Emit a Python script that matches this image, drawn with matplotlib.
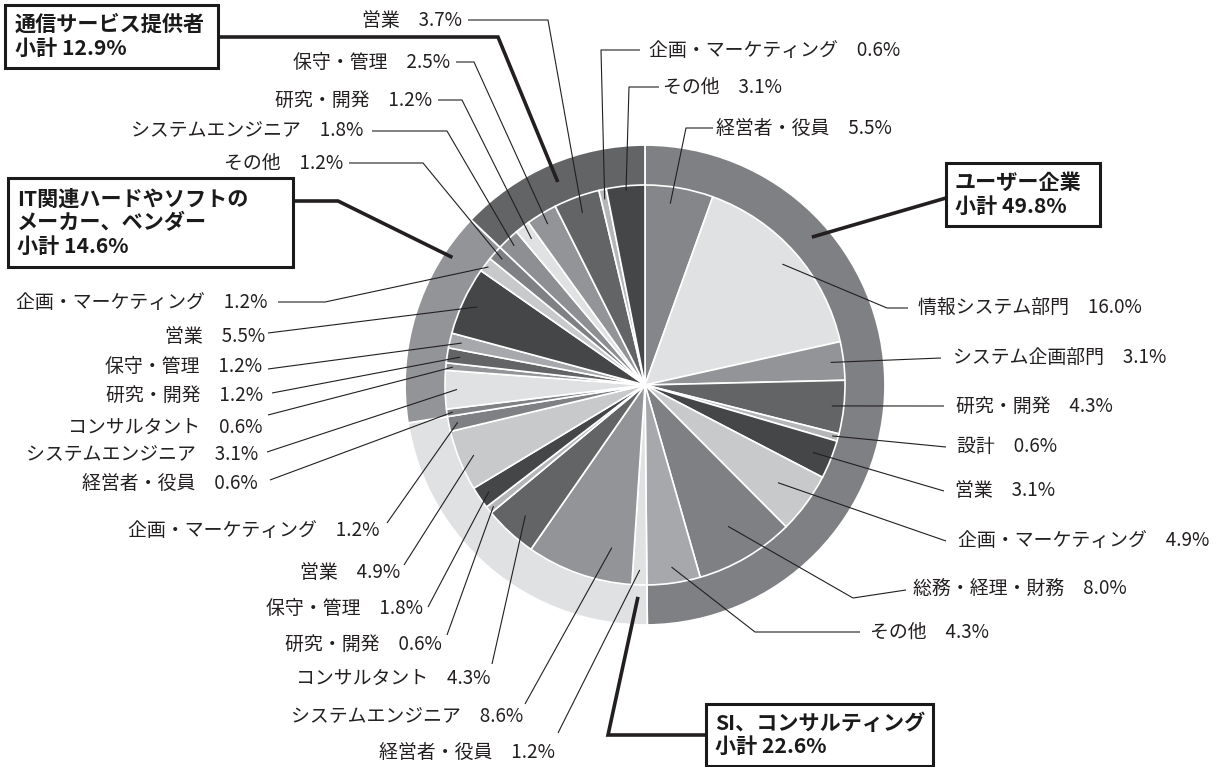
import matplotlib
matplotlib.use("Agg")
import matplotlib.pyplot as plt
from matplotlib.patches import Rectangle
import numpy as np

plt.rcParams['font.family'] = ['Noto Sans CJK JP', 'DejaVu Sans']

# ---------------- data ----------------
group_names = ['ユーザー企業', 'SI、コンサルティング',
               'IT関連ハードやソフトの\nメーカー、ベンダー', '通信サービス提供者']
group_values = [49.8, 22.6, 14.6, 12.9]

user_roles = ['経営者・役員', '情報システム部門', 'システム企画部門', '研究・開発', '設計',
              '営業', '企画・マーケティング', '総務・経理・財務', 'その他']
user_values = [5.5, 16.0, 3.1, 4.3, 0.6, 3.1, 4.9, 8.0, 4.3]

si_roles = ['経営者・役員', 'システムエンジニア', 'コンサルタント', '研究・開発', '保守・管理',
            '営業', '企画・マーケティング']
si_values = [1.2, 8.6, 4.3, 0.6, 1.8, 4.9, 1.2]

it_roles = ['経営者・役員', 'システムエンジニア', 'コンサルタント', '研究・開発', '保守・管理',
            '営業', '企画・マーケティング', 'その他']
it_values = [0.6, 3.1, 0.6, 1.2, 1.2, 5.5, 1.2, 1.2]

tel_roles = ['システムエンジニア', '研究・開発', '保守・管理', '営業', '企画・マーケティング', 'その他']
tel_values = [1.8, 1.2, 2.5, 3.7, 0.6, 3.1]

# ---------------- styles ----------------
ring_colors = ['#7f8083', '#e0e1e3', '#939497', '#636466']
user_colors = ['#858689', '#e0e1e3', '#939497', '#636466', '#b5b6b8', '#454648', '#c8c9cb', '#7f8083', '#a7a8ab']
si_colors = ['#e0e1e3', '#939497', '#636466', '#b5b6b8', '#454648', '#c8c9cb', '#7f8083']
it_colors = ['#808184', '#e0e1e3', '#939497', '#636466', '#a7a8ab', '#454648', '#c8c9cb', '#7f8083']
tel_colors = ['#8e8f92', '#e0e1e3', '#939497', '#636466', '#b5b6b8', '#454648']
TXT = '#231f20'
LINE = '#231f20'

W, H = 1219, 767
CX, CY = 645, H - 385
R_OUT, R_IN = 240, 200

# label layout (pixel coords, y downward): text x, text y, ha, leader radius, fraction, leader points
label_layout = [
    # user
    (716, 128, 'left', 183, 0.40, [(686, 128), (713, 128)]),
    (918, 307, 'left', 183, 0.5, [(887, 308), (908, 308)]),
    (953, 357, 'left', 187, 0.5, [(941, 358)]),
    (956, 406, 'left', 188, 0.5, [(944, 406)]),
    (957, 446, 'left', 194, 0.5, [(946, 447)]),
    (955, 491, 'left', 181, 0.5, [(944, 491)]),
    (958, 541, 'left', 165, 0.5, [(946, 541)]),
    (913, 588, 'left', 164, 0.5, [(853, 598), (906, 590)]),
    (870, 632, 'left', 184, 0.5, [(755, 632), (860, 632)]),
    # SI
    (555, 752, 'right', 185, 0.5, [(558, 733)]),
    (523, 717, 'right', 166, 0.25, [(525, 704)]),
    (490, 678, 'right', 177, 0.5, [(492, 664)]),
    (442, 644, 'right', 194, 0.5, [(447, 635)]),
    (423, 608, 'right', 189, 0.5, [(428, 607)]),
    (400, 572, 'right', 185, 0.5, [(404, 565)]),
    (380, 530, 'right', 191, 0.5, [(387, 523)]),
    # IT
    (258, 483, 'right', 194, 0.5, [(270, 480)]),
    (258, 455, 'right', 188, 0.5, [(267, 452)]),
    (263, 427, 'right', 193, 0.5, [(268, 415)]),
    (263, 395, 'right', 187, 0.5, [(272, 393)]),
    (262, 366, 'right', 188, 0.5, [(268, 369)]),
    (265, 337, 'right', 185, 0.5, [(268, 333)]),
    (268, 302, 'right', 196, 0.5, [(325, 302), (278, 302)]),
    (343, 163, 'right', 190, 0.5, [(423, 163), (349, 163)]),
    # telecom
    (363, 131, 'right', 191, 0.5, [(447, 131), (372, 131)]),
    (432, 100, 'right', 185, 0.5, [(462, 100), (438, 100)]),
    (450, 62, 'right', 188, 0.5, [(474, 62), (456, 62)]),
    (462, 20, 'right', 183, 0.5, [(548, 20), (468, 20)]),
    (649, 50, 'left', 190, 0.5, [(601, 50), (640, 50)]),
    (663, 87, 'left', 195, 0.5, [(629, 87), (659, 87)]),
]

# group boxes: (x0, y0, x1, y1), text x, leader radius, fraction, leader points (box -> ring)
group_layout = [
    ((946, 163, 1100, 226), 955, 223, 0.27, [(946, 198)]),
    ((706, 704, 933, 766), 715, 212, 0.03, [(706, 735), (608, 735)]),
    ((8, 178, 293, 267), 17, 231, 0.81, [(293, 201), (338, 201)]),
    ((5, 5, 218, 68), 15, 221, 0.5, [(218, 37), (498, 37)]),
]

# ---------------- figure ----------------
fig = plt.figure(figsize=(12.19, 7.67), dpi=100)
ax = fig.add_axes([0, 0, 1, 1])

all_roles = user_roles + si_roles + it_roles + tel_roles
all_values = user_values + si_values + it_values + tel_values
all_colors = user_colors + si_colors + it_colors + tel_colors

ring_w, _ = ax.pie(group_values, radius=R_OUT, center=(CX, CY), startangle=90,
                   counterclock=False, colors=ring_colors,
                   wedgeprops=dict(edgecolor='white', linewidth=1.3))
inner_w, _ = ax.pie(all_values, radius=R_IN, center=(CX, CY), startangle=90,
                    counterclock=False, colors=all_colors,
                    wedgeprops=dict(edgecolor='white', linewidth=1.2))

ax.set_xlim(0, W)
ax.set_ylim(0, H)
ax.set_aspect('equal')
ax.axis('off')


def wedge_point(w, r, f=0.5):
    a = np.deg2rad(w.theta2 - f * (w.theta2 - w.theta1))
    return CX + r * np.cos(a), CY + r * np.sin(a)


for w, role, v, lay in zip(inner_w, all_roles, all_values, label_layout):
    tx, ty, ha, r, f, pts = lay
    sx, sy = wedge_point(w, r, f)
    xs = [sx] + [p[0] for p in pts]
    ys = [sy] + [H - p[1] for p in pts]
    ax.plot(xs, ys, color=LINE, lw=0.8, solid_capstyle='butt', zorder=5)
    ax.text(tx, H - ty, f'{role}\u3000{v:.1f}%', ha=ha, va='center',
            fontsize=13.6, color=TXT, zorder=6)

for w, name, v, lay in zip(ring_w, group_names, group_values, group_layout):
    (x0, y0, x1, y1), tx, r, f, pts = lay
    sx, sy = wedge_point(w, r, f)
    xs = [p[0] for p in pts] + [sx]
    ys = [H - p[1] for p in pts] + [sy]
    ax.plot(xs, ys, color=LINE, lw=2.6, solid_capstyle='butt', solid_joinstyle='miter', zorder=7)
    ax.add_patch(Rectangle((x0, H - y1), x1 - x0, y1 - y0, facecolor='white',
                           edgecolor='#1a1a1a', lw=2.2, zorder=8))
    ax.text(tx, H - (y0 + y1) / 2, f'{name}\n小計 {v:.1f}%', ha='left', va='center',
            fontsize=15.2, fontweight='bold', color='#1a1a1a', linespacing=1.15, zorder=9)

fig.savefig('out.png', dpi=100)
